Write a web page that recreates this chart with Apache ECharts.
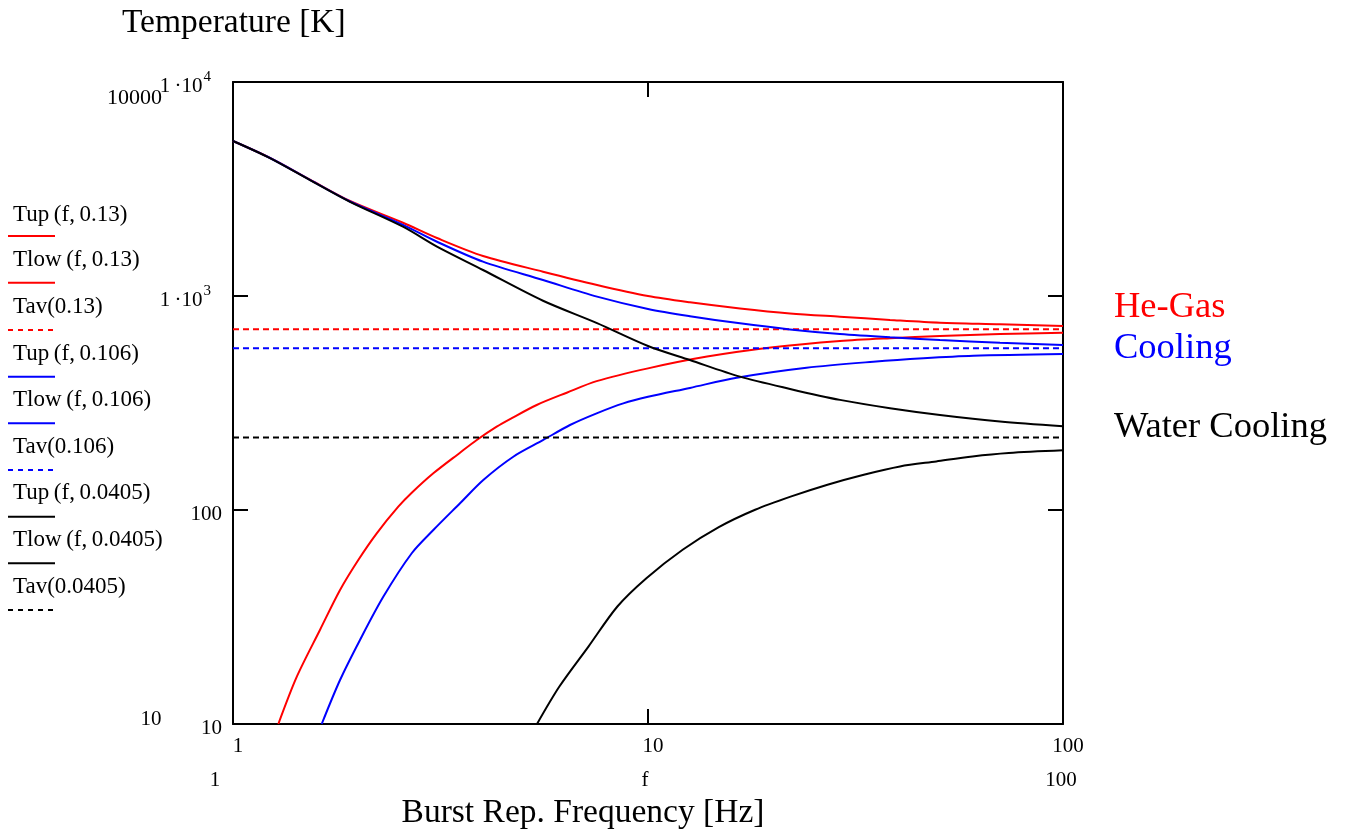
<!DOCTYPE html>
<html>
<head>
<meta charset="utf-8">
<script src="https://cdn.jsdelivr.net/npm/echarts@6/dist/echarts.min.js"></script>
<style>
html,body{margin:0;padding:0;background:#fff;}
#chart{width:1348px;height:837px;}
</style>
</head>
<body>
<div id="chart"></div>
<script>
// ---- data ----
var freqUp   = [1, 1.228, 1.533, 1.914, 2.568, 3.101, 4.003, 5.585, 7.537, 10, 12.62, 16.66, 21.99, 29.01, 38.3, 50.53, 70.5, 100];
var tupHe    = [5300, 4420, 3500, 2780, 2200, 1866, 1538, 1299, 1126, 1000, 935, 875, 829, 800, 773, 750, 738, 724];
var tupMid   = [5300, 4415, 3490, 2765, 2150, 1793, 1447, 1188, 993, 870, 805, 745, 698, 664, 641, 623, 605, 590];
var tupWater = [5300, 4410, 3480, 2755, 2107, 1700, 1323, 950, 747, 584, 502, 420, 368, 327, 299, 278, 259, 246];

var freqLowHe = [1.286, 1.424, 1.62, 1.811, 2.004, 2.22, 2.502, 2.696, 3.039, 3.524, 3.867, 4.319, 4.651, 5.393, 6.37, 7.52, 10, 13.88, 20, 29.01, 38.3, 50.53, 70.5, 100];
var tlowHe    = [10, 16.6, 27.5, 42.3, 58.4, 77.8, 103.6, 120.4, 148.4, 185.3, 212.4, 245.1, 266, 309.6, 353.3, 400, 459, 521, 576, 616, 635, 650, 664, 674];

var freqLowMid = [1.636, 1.811, 2.023, 2.302, 2.696, 3.039, 3.524, 4.01, 4.736, 5.594, 6.487, 7.52, 8.719, 10, 12.62, 16.36, 24.1, 34.9, 46.1, 60.8, 100];
var tlowMid    = [10, 16.05, 24.7, 39.3, 62.8, 80.6, 107.5, 138.1, 177.4, 212.4, 249.6, 283, 315, 338, 372, 415, 462, 493, 512, 526, 536];

var freqLowWater = [5.402, 6.116, 7.186, 8.438, 9.911, 12.12, 14.81, 18.12, 22.15, 27.07, 33.11, 40.48, 49.5, 60.53, 74.0, 100];
var tlowWater    = [10, 14.96, 23.0, 35.4, 48.0, 65.2, 83.2, 100.3, 115.8, 131.3, 146.2, 159.8, 168.7, 178.0, 184.6, 190];

var tavValues = [700, 570, 218];           // Tav(0.13), Tav(0.106), Tav(0.0405)
var freqRange = [1, 100];
var xTicks = [1, 10, 100];
var yTicks = [10, 100, 1000, 10000];
var legendLabels = ['Tup\u2009(f,\u20090.13)', 'Tlow\u2009(f,\u20090.13)', 'Tav(0.13)',
                    'Tup\u2009(f,\u20090.106)', 'Tlow\u2009(f,\u20090.106)', 'Tav(0.106)',
                    'Tup\u2009(f,\u20090.0405)', 'Tlow\u2009(f,\u20090.0405)', 'Tav(0.0405)'];
var sideLabels = ['He-Gas', 'Cooling', 'Water Cooling'];

// ---- build ----
var FONT = 'Liberation Serif';
var RED = '#ff0000', BLUE = '#0000ff', BLACK = '#000000';
function pairs(xs, ys){ return xs.map(function(x,i){ return [x, ys[i]]; }); }
function flat(v){ return freqRange.map(function(f){ return [f, v]; }); }

var groups = [
  {color: RED,   up: pairs(freqUp, tupHe),    low: pairs(freqLowHe, tlowHe),       av: flat(tavValues[0])},
  {color: BLUE,  up: pairs(freqUp, tupMid),   low: pairs(freqLowMid, tlowMid),     av: flat(tavValues[1])},
  {color: BLACK, up: pairs(freqUp, tupWater), low: pairs(freqLowWater, tlowWater), av: flat(tavValues[2])}
];
var series = [];
groups.forEach(function(g, gi){
  [['up', g.up, 'solid'], ['low', g.low, 'solid'], ['av', g.av, 'dashed']].forEach(function(s, si){
    var dashed = s[2] === 'dashed';
    series.push({
      name: legendLabels[gi*3+si],
      type: 'line',
      data: s[1],
      symbol: 'none',
      smooth: dashed ? false : 0.3,
      clip: true,
      lineStyle: {color: g.color, width: 2, type: dashed ? [6,4] : 'solid'},
      z: 2 + gi*3 + si
    });
  });
});

var axisLineStyle = {color: '#000', width: 2};
function yFmt(v){
  if (v >= 9999) return '{b|1\u2009\u00b710}{sup|4}{pad|}';
  if (v >= 999) return '{b|1\u2009\u00b710}{sup|3}{pad|}';
  return '{b|' + Math.round(v) + '}';
}

var graphics = [];
var legendTextY = [215, 260, 306.7, 354, 400, 446.7, 493.3, 540, 586.7];
var legendLineY = [236, 282.7, 330, 376.7, 423.3, 470, 516.7, 563.3, 610];
var legColors = [RED, RED, RED, BLUE, BLUE, BLUE, BLACK, BLACK, BLACK];
legendLabels.forEach(function(t, i){
  graphics.push({type:'text', x: 13, y: legendTextY[i],
    style:{text: t, font: '23px "' + FONT + '"', fill:'#000', textAlign:'left', textVerticalAlign:'middle', align:'left', verticalAlign:'middle'}});
  graphics.push({type:'line', shape:{x1: 8, y1: legendLineY[i], x2: 55, y2: legendLineY[i]},
    style:{stroke: legColors[i], lineWidth: 2, lineDash: (i % 3 === 2) ? [5,5] : null}});
});
function txt(t, x, y, size, color, align){
  graphics.push({type:'text', x: x, y: y,
    style:{text: t, font: size + 'px "' + FONT + '"', fill: color, textAlign: align, textVerticalAlign:'middle', align: align, verticalAlign:'middle'}});
}
txt('Temperature [K]', 122, 23, 33.5, '#000', 'left');
txt('Burst Rep. Frequency [Hz]', 583, 813, 33.5, '#000', 'center');
txt(sideLabels[0], 1114, 307, 36.5, RED, 'left');
txt(sideLabels[1], 1114, 348, 36.5, BLUE, 'left');
txt(sideLabels[2], 1114, 427, 36.5, BLACK, 'left');
txt('10000', 162, 98, 22, '#000', 'right');
txt('10', 151, 719, 21, '#000', 'center');
txt(String(xTicks[0]), 215, 780, 21, '#000', 'center');
txt('f', 645, 780, 21, '#000', 'center');
txt(String(xTicks[2]), 1061, 780, 21, '#000', 'center');

var chart = echarts.init(document.getElementById('chart'), null, {renderer: 'canvas'});
chart.setOption({
  animation: false,
  backgroundColor: '#fff',
  grid: {left: 233, top: 82, width: 830, height: 642, show: false},
  xAxis: [
    {type: 'log', logBase: 10, min: xTicks[0], max: xTicks[2], position: 'bottom',
     axisLine: {show: true, onZero: false, lineStyle: axisLineStyle},
     axisTick: {show: true, inside: true, length: 15, lineStyle: {color:'#000', width: 2}},
     axisLabel: {show: true, margin: 12, fontSize: 21, fontFamily: FONT, color: '#000', padding: [0,0,0,10]},
     splitLine: {show: false}, minorTick: {show: false}},
    {type: 'log', logBase: 10, min: xTicks[0], max: xTicks[2], position: 'top',
     axisLine: {show: true, onZero: false, lineStyle: axisLineStyle},
     axisTick: {show: true, inside: true, length: 15, lineStyle: {color:'#000', width: 2}},
     axisLabel: {show: false}, splitLine: {show: false}}
  ],
  yAxis: [
    {type: 'log', logBase: 10, min: yTicks[0], max: yTicks[3], position: 'left',
     axisLine: {show: true, onZero: false, lineStyle: axisLineStyle},
     axisTick: {show: true, inside: true, length: 15, lineStyle: {color:'#000', width: 2}},
     axisLabel: {show: true, margin: 11, color: '#000', formatter: yFmt, padding: [8,0,0,0],
       rich: {
         b: {fontSize: 21, fontFamily: FONT, color: '#000', lineHeight: 21, verticalAlign: 'bottom'},
         sup: {fontSize: 15, fontFamily: FONT, color: '#000', lineHeight: 15, verticalAlign: 'bottom', padding: [0,0,12,1]},
         pad: {width: 11}
       }},
     splitLine: {show: false}, minorTick: {show: false}},
    {type: 'log', logBase: 10, min: yTicks[0], max: yTicks[3], position: 'right',
     axisLine: {show: true, onZero: false, lineStyle: axisLineStyle},
     axisTick: {show: true, inside: true, length: 15, lineStyle: {color:'#000', width: 2}},
     axisLabel: {show: false}, splitLine: {show: false}}
  ],
  series: series,
  graphic: {elements: graphics}
});
</script>
</body>
</html>
